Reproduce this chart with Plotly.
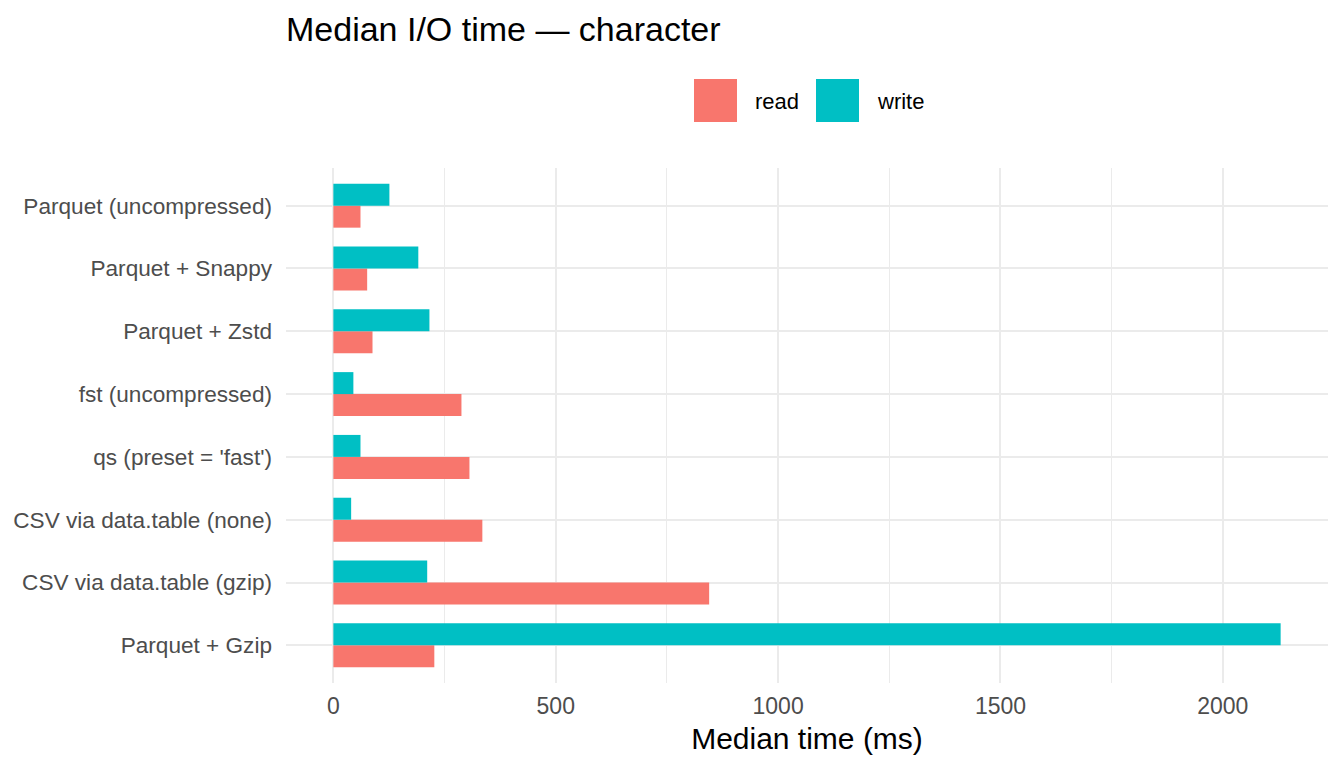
import plotly.graph_objects as go

categories = [
    "Parquet + Gzip",
    "CSV via data.table (gzip)",
    "CSV via data.table (none)",
    "qs (preset = 'fast')",
    "fst (uncompressed)",
    "Parquet + Zstd",
    "Parquet + Snappy",
    "Parquet (uncompressed)",
]
read_ms = [227, 845, 335, 306, 288, 88, 76, 61]
write_ms = [2130, 211, 40, 61, 45, 216, 191, 126]

series_names = ["read", "write"]
series_colors = ["#F8766D", "#00BFC4"]

FONT = "Liberation Sans, Arial, sans-serif"

# page body has an 8px margin, so the figure is laid out 8px smaller
W, H = 1336, 760
ML, MR, MT, MB = 278, 16, 160, 85
PW, PH = W - ML - MR, H - MT - MB

fig = go.Figure()
for name, vals, col in zip(series_names, [read_ms, write_ms], series_colors):
    fig.add_trace(go.Bar(
        y=categories, x=vals, name=name, orientation="h",
        marker=dict(color=col, line=dict(width=0)),
        hovertemplate="%{y}: %{x} ms<extra>" + name + "</extra>",
        showlegend=False,
    ))

# ggplot-style legend with large keys
key_left = [686, 808]
text_left = [745, 867]
key_top, key_bot = 71, 114
def px_to_paper_x(px):
    return (px - ML) / PW
def px_to_paper_y(py):
    return (H - MB - py) / PH
for name, col, kl, tl in zip(series_names, series_colors, key_left, text_left):
    fig.add_shape(type="rect", xref="paper", yref="paper",
                  x0=px_to_paper_x(kl), x1=px_to_paper_x(kl + 43),
                  y0=px_to_paper_y(key_bot), y1=px_to_paper_y(key_top),
                  fillcolor=col, line=dict(width=0))
    fig.add_annotation(text=name, xref="paper", yref="paper",
                       x=px_to_paper_x(tl), y=px_to_paper_y((key_top + key_bot) / 2 + 1),
                       xanchor="left", yanchor="middle", showarrow=False,
                       font=dict(size=22, color="#000000"))

xmax = max(read_ms + write_ms)
n = len(categories)
fig.update_layout(
    width=W, height=H,
    barmode="group", bargap=0.3, bargroupgap=0,
    plot_bgcolor="white", paper_bgcolor="white",
    margin=dict(l=ML, r=MR, t=MT, b=MB, autoexpand=False),
    font=dict(family=FONT, color="#000000"),
    showlegend=False,
    title=dict(text="Median I/O time — character", x=ML / W, xanchor="left",
               y=1 - 21 / H, yanchor="middle", font=dict(size=34, color="#000000")),
    xaxis=dict(
        range=[-0.05 * xmax, 1.05 * xmax],
        tickvals=[0, 500, 1000, 1500, 2000],
        showgrid=True, gridcolor="#EBEBEB", gridwidth=1.5,
        minor=dict(dtick=250, tick0=0, showgrid=True, gridcolor="#EBEBEB", gridwidth=0.7),
        zeroline=False, showline=False, ticks="",
        tickfont=dict(size=23, color="#4D4D4D"),
        ticklabelstandoff=7,
        title=dict(text="Median time (ms)", font=dict(size=30, color="#000000"), standoff=9),
    ),
    yaxis=dict(
        categoryorder="array", categoryarray=categories,
        range=[-0.6, n - 1 + 0.6],
        showgrid=True, gridcolor="#EBEBEB", gridwidth=1.5,
        zeroline=False, showline=False, ticks="",
        tickfont=dict(size=22.6, color="#4D4D4D"),
        ticklabelstandoff=13,
    ),
)

fig.write_html("out.html")
